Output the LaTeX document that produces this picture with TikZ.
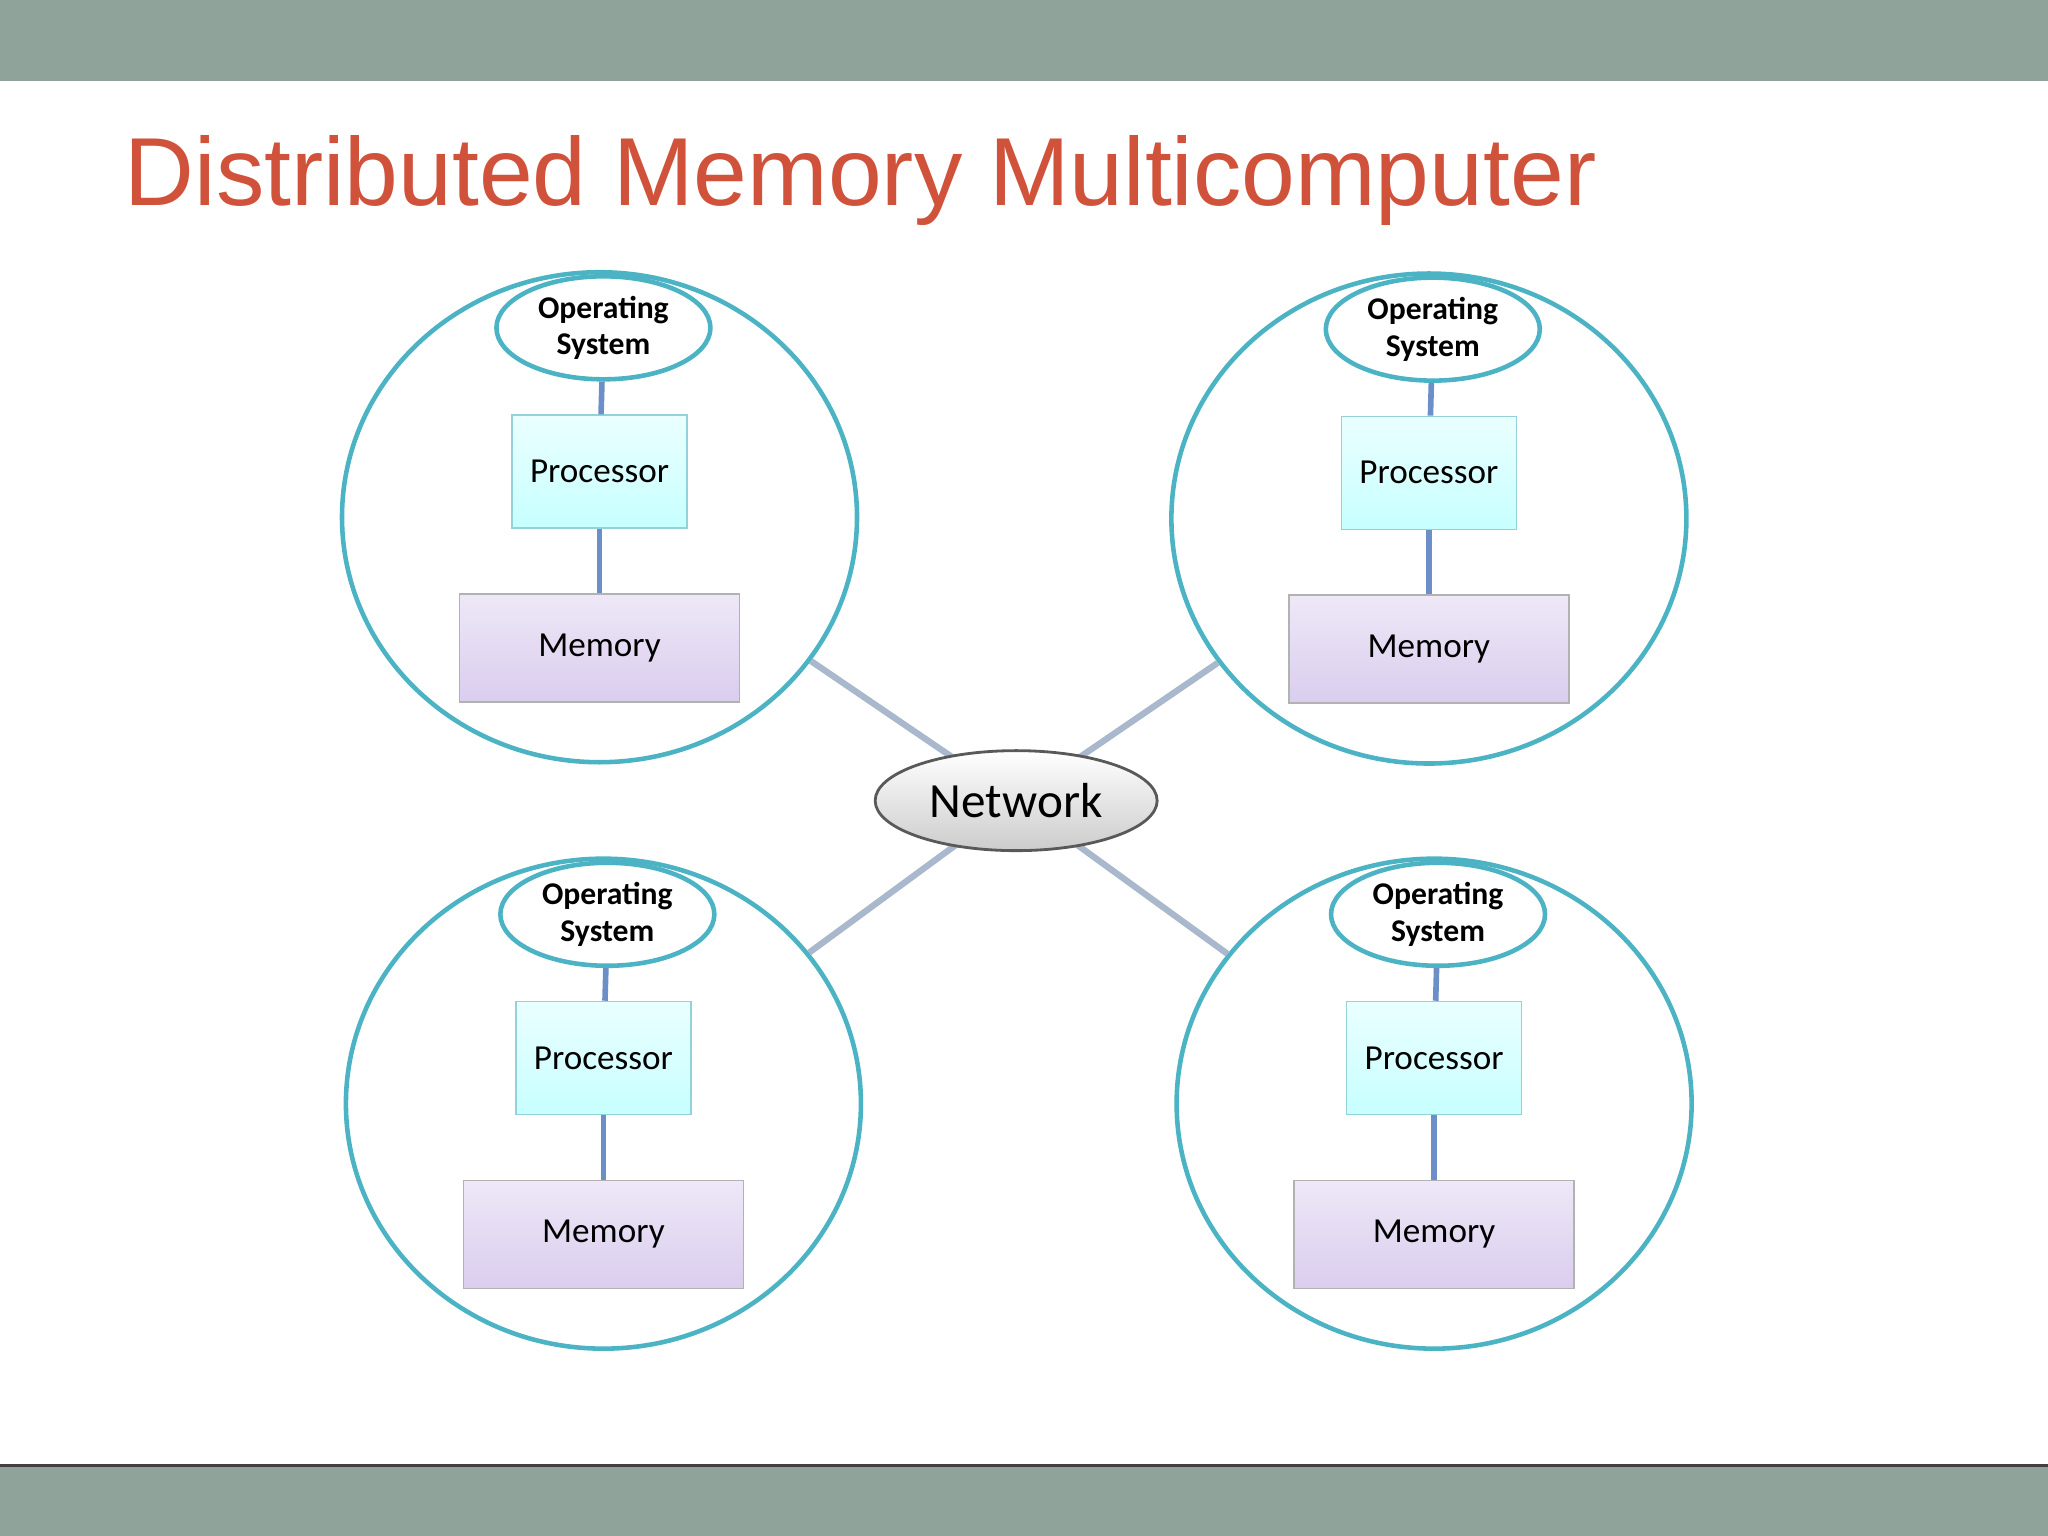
\documentclass[tikz,border=0pt]{standalone}
\usepackage{fontspec}
\setmainfont{Carlito}
\newfontfamily\titlefont{Liberation Sans}
\usetikzlibrary{shapes.geometric}
\definecolor{barcol}{HTML}{8FA39A}
\definecolor{titlecol}{HTML}{D0523B}
\definecolor{ringcol}{HTML}{4BB3C3}
\definecolor{linkcol}{HTML}{A9B8CC}
\definecolor{stemcol}{HTML}{6C8FC8}
\definecolor{memtop}{HTML}{EEE8F7}
\definecolor{membot}{HTML}{DACDEE}
\begin{document}
\begin{tikzpicture}[x=0.013061cm,y=-0.013061cm,
  ring/.style={ellipse,draw=ringcol,line width=1.3pt,minimum width=5.15cm,minimum height=4.9cm},
  os/.style={ellipse,draw=ringcol,line width=1.3pt,fill=white,minimum width=2.14cm,minimum height=1.03cm,
    align=center,font=\fontsize{9}{10.5}\selectfont\bfseries,inner sep=0pt},
  proc/.style={rectangle,draw=ringcol!60,top color=cyan!8,bottom color=cyan!22,minimum width=1.75cm,
    minimum height=1.13cm,font=\fontsize{10}{12}\selectfont},
  mem/.style={rectangle,draw=gray!60,top color=memtop,bottom color=membot,minimum width=2.8cm,
    minimum height=1.08cm,font=\fontsize{10}{12}\selectfont},
  net/.style={ellipse,draw=gray!70!black,line width=0.8pt,top color=white,bottom color=gray!40,
    minimum width=2.82cm,minimum height=1.0cm,font=\fontsize{14}{16}\selectfont},
  stem/.style={draw=stemcol,line width=1.6pt},
  link/.style={draw=linkcol,line width=1.8pt}]
\useasboundingbox (0,0) rectangle (1568,1176);
\fill[barcol] (0,0) rectangle (1568,62);
\fill[barcol] (0,1122) rectangle (1568,1176);
\draw[gray!50!black,line width=0.8pt] (0,1122) -- (1568,1122);
\node[anchor=base west,inner sep=0pt,text=titlecol,font=\titlefont\fontsize{27.5}{32}\selectfont] (title) at (95,157) {Distributed Memory Multicomputer};
\foreach \n/\x/\y in {q1/459/396,q2/1094/397,q3/462/845,q4/1098/845}{
  \node[ring] (\n) at (\x,\y) {};
  \node[os] (\n os) at (\x+3,\y-145) {Operating\\System};
  \node[proc] (\n p) at (\x,\y-35) {Processor};
  \node[mem] (\n m) at (\x,\y+100) {Memory};
  \draw[stem] (\n os) -- (\n p);
  \draw[stem] (\n p) -- (\n m);
}
\coordinate (nc) at (778,613);
\draw[link] (nc) -- (q1);
\draw[link] (nc) -- (q2);
\draw[link] (nc) -- (q3);
\draw[link] (nc) -- (q4);
\node[net] (net) at (nc) {Network};
\end{tikzpicture}
\end{document}
